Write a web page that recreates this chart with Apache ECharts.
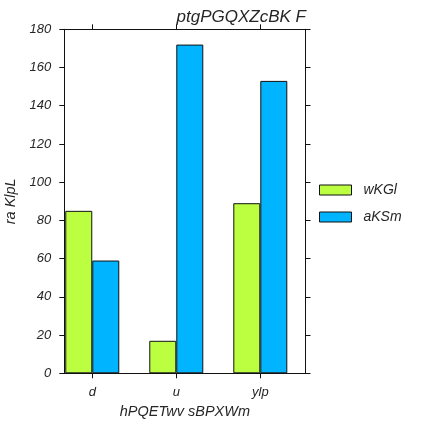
<!DOCTYPE html>
<html>
<head>
<meta charset="utf-8">
<script src="https://cdn.jsdelivr.net/npm/echarts@6/dist/echarts.min.js"></script>
<style>html,body{margin:0;padding:0;background:#fff;}#c{width:427px;height:427px;}</style>
</head>
<body>
<div id="c"></div>
<script>
var categories = ['d', 'u', 'ylp'];
var seriesNames = ['wKGl', 'aKSm'];
var wKGl = [85, 17, 89];
var aKSm = [59, 172, 153];
var yTicks = [0, 20, 40, 60, 80, 100, 120, 140, 160, 180];

var FONT = '"Liberation Sans", Arial, sans-serif';
var TXT = '#262626';
var tickPos = categories.map(function (c, i) { return i; });

var chart = echarts.init(document.getElementById('c'), null, {renderer: 'canvas'});

function xAx(pos, labels) {
  return {
    type: 'value', position: pos, min: -0.333, max: 2.538,
    axisLine: {show: true, onZero: false, lineStyle: {color: '#111', width: 1}},
    axisTick: {show: true, inside: false, length: 5, customValues: tickPos, lineStyle: {color: '#111'}},
    axisLabel: labels ? {show: true, customValues: tickPos, margin: 13, fontSize: 13, fontStyle: 'italic', fontFamily: FONT, color: TXT,
      formatter: function (v) { return categories[Math.round(v)]; }} : {show: false},
    splitLine: {show: false},
    name: labels ? 'hPQETwv sBPXWm' : '', nameLocation: 'middle', nameGap: 28,
    nameTextStyle: {fontSize: 14.5, fontStyle: 'italic', fontFamily: FONT, color: TXT}
  };
}
function yAx(pos, labels) {
  return {
    type: 'value', position: pos, min: yTicks[0], max: yTicks[yTicks.length - 1], interval: 20,
    axisLine: {show: true, onZero: false, lineStyle: {color: '#111', width: 1}},
    axisTick: {show: true, inside: false, length: 5, lineStyle: {color: '#111'}},
    axisLabel: labels ? {show: true, margin: 13, fontSize: 13, fontStyle: 'italic', fontFamily: FONT, color: TXT} : {show: false},
    splitLine: {show: false},
    name: labels ? 'ra KlpL' : '', nameLocation: 'middle', nameGap: 35, nameRotate: 90,
    nameTextStyle: {fontSize: 14.5, fontStyle: 'italic', fontFamily: FONT, color: TXT}
  };
}

function mk(name, vals, color) {
  return {
    name: name, type: 'bar', xAxisIndex: 0, yAxisIndex: 0,
    barWidth: 27, barGap: '0%',
    data: vals.map(function (v, i) { return [i, v]; }),
    itemStyle: {color: color, borderColor: '#111', borderWidth: 1},
    emphasis: {disabled: true}
  };
}

chart.setOption({
  animation: false,
  backgroundColor: '#fff',
  title: {
    text: 'ptgPGQXZcBK F', right: 121, top: 9, padding: 0,
    textStyle: {fontSize: 17, fontStyle: 'italic', fontWeight: 'normal', fontFamily: FONT, color: TXT}
  },
  grid: {left: 64.3, top: 29.3, width: 241.2, height: 344, containLabel: false, outerBoundsMode: 'none'},
  legend: {
    orient: 'vertical', left: 319, top: 183, padding: 0, itemWidth: 32, itemHeight: 10, itemGap: 13,
    icon: 'rect',
    itemStyle: {borderWidth: 1, borderColor: '#111'},
    textStyle: {fontSize: 14, fontStyle: 'italic', fontFamily: FONT, color: TXT, padding: [0, 0, 0, 7]},
    data: seriesNames
  },
  xAxis: [xAx('bottom', true), xAx('top', false)],
  yAxis: [yAx('left', true), yAx('right', false)],
  series: [mk(seriesNames[0], wKGl, '#bbff40'), mk(seriesNames[1], aKSm, '#00b4ff')]
});
</script>
</body>
</html>
